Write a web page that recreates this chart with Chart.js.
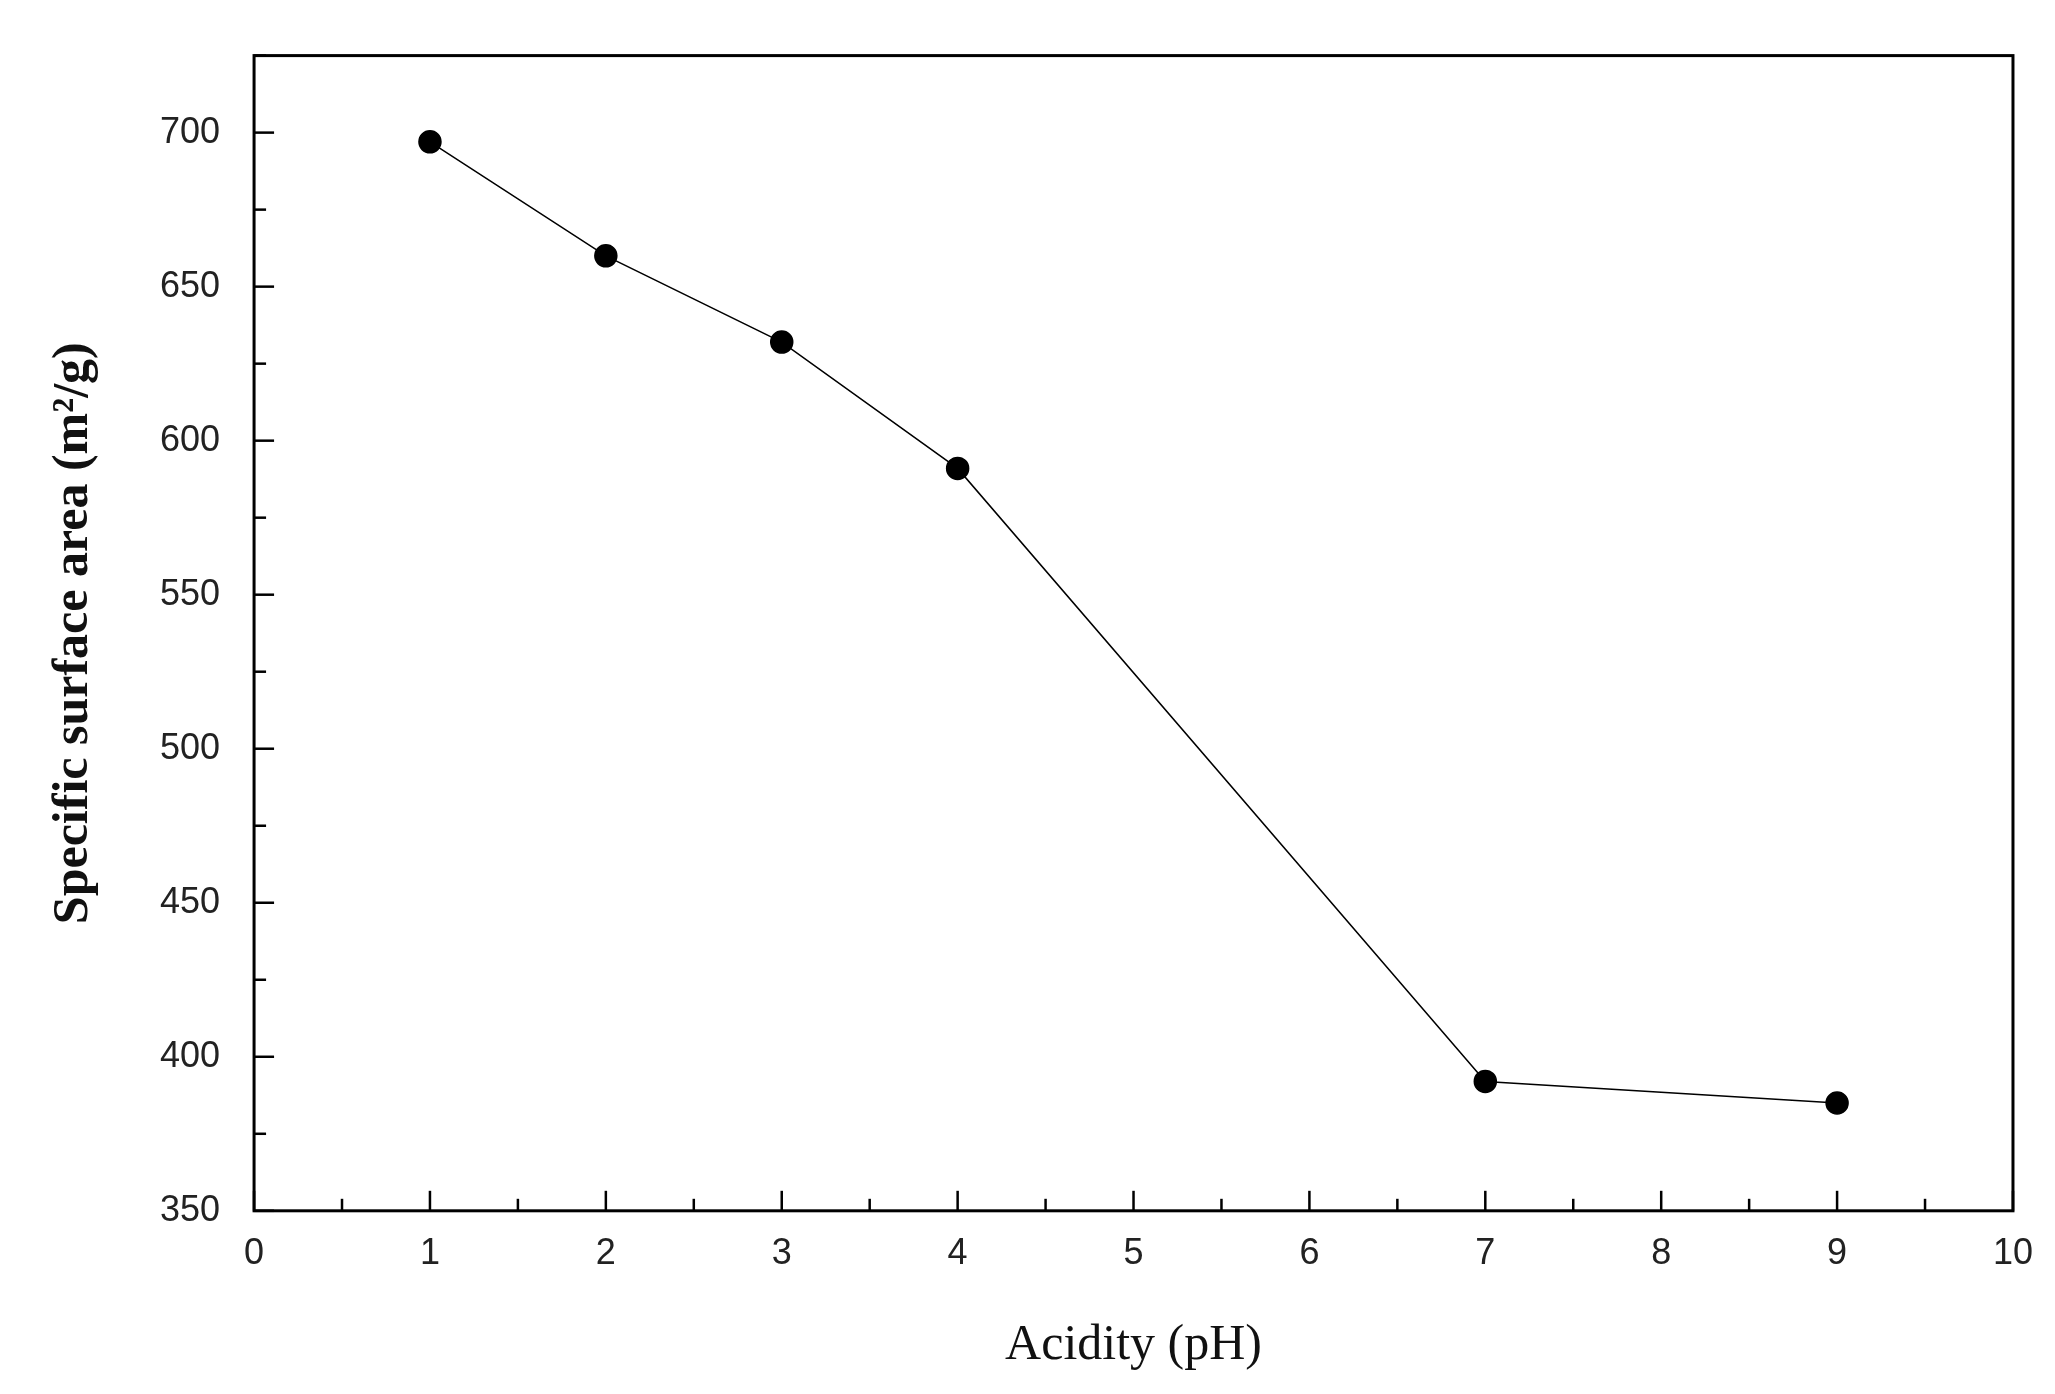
<!DOCTYPE html>
<html>
<head>
<meta charset="utf-8">
<script src="https://cdn.jsdelivr.net/npm/chart.js@4.4.0/dist/chart.umd.min.js"></script>
<style>
  html, body { margin: 0; padding: 0; background: #fff; }
  #wrap { width: 2055px; height: 1394px; }
</style>
</head>
<body>
<div id="wrap"><canvas id="chart"></canvas></div>
<script>
// valori
const phValues = [1, 2, 3, 4, 7, 9];
const surfaceArea = [697, 660, 632, 591, 392, 385];
const xTicks = [0, 1, 2, 3, 4, 5, 6, 7, 8, 9, 10];
const yTicks = [350, 400, 450, 500, 550, 600, 650, 700];

// tacche interne + bordo del riquadro
const frameTicks = {
    id: "frameTicks",
    afterDraw(chart) {
        const ctx = chart.ctx;
        const a = chart.chartArea;
        const x = chart.scales.x, y = chart.scales.y;
        ctx.save();
        ctx.strokeStyle = "#000";
        ctx.lineWidth = 3;
        ctx.strokeRect(a.left, a.top, a.right - a.left, a.bottom - a.top);
        ctx.lineWidth = 2.5;
        for (let v = 0; v <= 10; v += 0.5) {
            let px = x.getPixelForValue(v);
            let len = (v % 1 === 0) ? 20 : 12;
            ctx.beginPath();
            ctx.moveTo(px, a.bottom);
            ctx.lineTo(px, a.bottom - len);
            ctx.stroke();
        }
        for (let v = 350; v <= 725; v += 25) {
            let py = y.getPixelForValue(v);
            let len = (v % 50 === 0) ? 20 : 12;
            ctx.beginPath();
            ctx.moveTo(a.left, py);
            ctx.lineTo(a.left + len, py);
            ctx.stroke();
        }
        ctx.restore();
    }
};

new Chart(document.getElementById("chart"), {
    type: "line",
    data: {
        datasets: [{
            data: phValues.map((p, i) => ({ x: p, y: surfaceArea[i] })),
            borderColor: "#000",
            borderWidth: 1.5,
            backgroundColor: "#000",
            pointRadius: 11,
            pointHoverRadius: 11,
            tension: 0
        }]
    },
    options: {
        responsive: true,
        maintainAspectRatio: false,
        animation: false,
        layout: { padding: { top: 2, right: 28, bottom: 14, left: 40 } },
        plugins: { legend: { display: false }, tooltip: { enabled: false } },
        scales: {
            x: {
                type: "linear",
                min: 0, max: 10,
                afterBuildTicks: s => { s.ticks = xTicks.map(v => ({ value: v })); },
                grid: { display: false, drawTicks: false },
                border: { display: false },
                ticks: { color: "#222", font: { family: "Liberation Sans", size: 36 }, padding: 22 },
                title: { display: true, text: "Acidity (pH)", color: "#111",
                         font: { family: "Liberation Serif", size: 50 }, padding: { top: 18 } }
            },
            y: {
                type: "linear",
                min: 350, max: 725,
                afterBuildTicks: s => { s.ticks = yTicks.map(v => ({ value: v })); },
                grid: { display: false, drawTicks: false },
                border: { display: false },
                ticks: { color: "#222", font: { family: "Liberation Sans", size: 36 }, padding: 34 },
                title: { display: true, text: "Specific surface area (m²/g)", color: "#111",
                         font: { family: "Liberation Serif", size: 50, weight: "bold" }, padding: { bottom: 22 } }
            }
        }
    },
    plugins: [frameTicks]
});
</script>
</body>
</html>
